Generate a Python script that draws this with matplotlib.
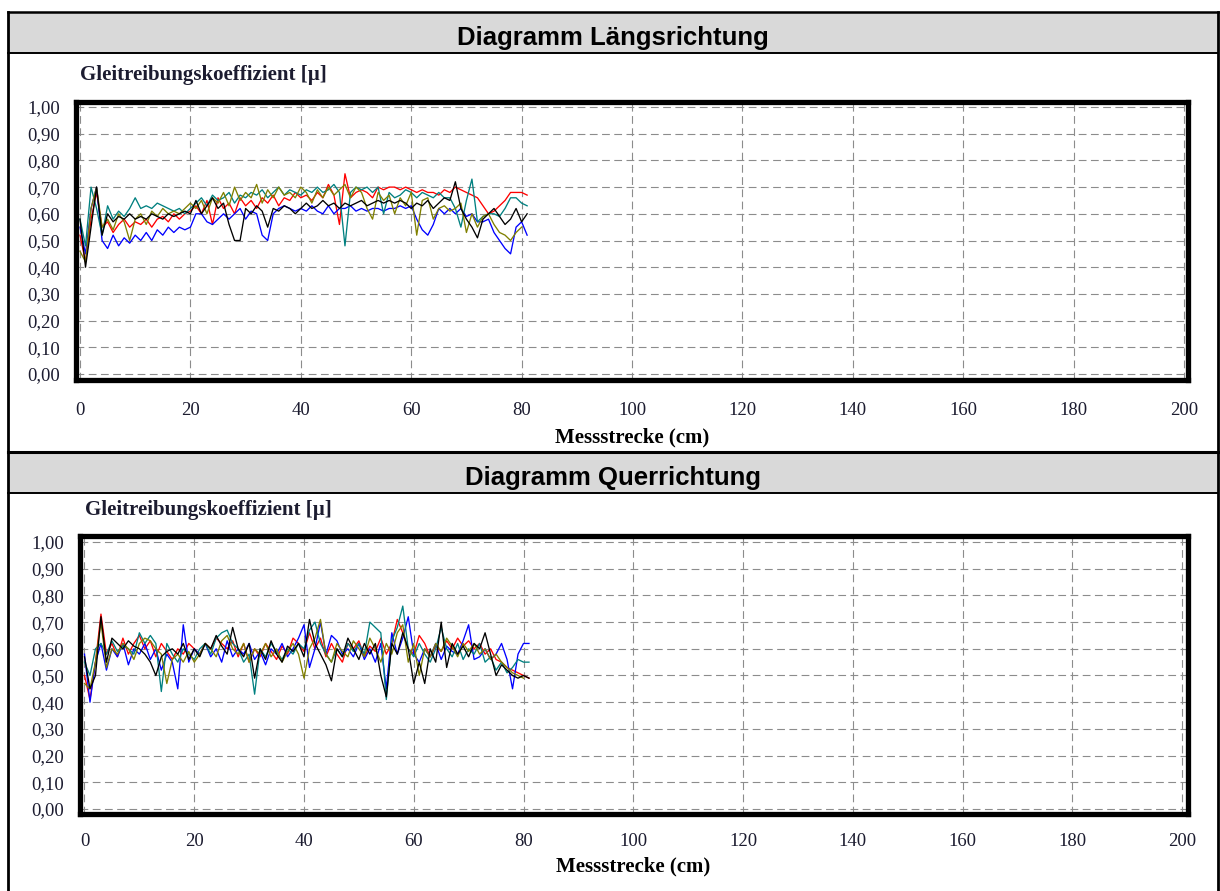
import matplotlib
matplotlib.use("Agg")
import matplotlib.pyplot as plt
from matplotlib.patches import Rectangle
from matplotlib.ticker import FuncFormatter

# Messpunkte in cm
messpunkte = list(range(82))

# --- Diagramm Laengsrichtung ---
l_rot = [0.52, 0.42, 0.58, 0.68, 0.55, 0.57, 0.53, 0.56, 0.58, 0.55,
         0.57, 0.56, 0.58, 0.55, 0.58, 0.59, 0.57, 0.60, 0.58, 0.60,
         0.61, 0.63, 0.60, 0.65, 0.56, 0.66, 0.62, 0.64, 0.60, 0.66,
         0.63, 0.65, 0.62, 0.66, 0.64, 0.67, 0.63, 0.66, 0.65, 0.68,
         0.66, 0.67, 0.65, 0.68, 0.66, 0.71, 0.67, 0.56, 0.75, 0.66,
         0.68, 0.69, 0.68, 0.66, 0.70, 0.69, 0.70, 0.70, 0.69, 0.70,
         0.69, 0.68, 0.69, 0.68, 0.68, 0.67, 0.69, 0.68, 0.70, 0.69,
         0.68, 0.67, 0.66, 0.63, 0.60, 0.61, 0.63, 0.65, 0.68, 0.68,
         0.68, 0.67]
l_blau = [0.55, 0.45, 0.62, 0.70, 0.50, 0.47, 0.52, 0.48, 0.51, 0.49,
          0.52, 0.50, 0.53, 0.50, 0.54, 0.52, 0.55, 0.53, 0.55, 0.54,
          0.55, 0.60, 0.60, 0.57, 0.56, 0.58, 0.60, 0.58, 0.60, 0.62,
          0.58, 0.61, 0.60, 0.52, 0.50, 0.60, 0.62, 0.63, 0.62, 0.61,
          0.62, 0.61, 0.63, 0.61, 0.60, 0.63, 0.60, 0.62, 0.62, 0.63,
          0.61, 0.62, 0.61, 0.62, 0.62, 0.61, 0.62, 0.62, 0.63, 0.62,
          0.63, 0.58, 0.54, 0.52, 0.56, 0.62, 0.60, 0.62, 0.60, 0.62,
          0.59, 0.60, 0.57, 0.57, 0.58, 0.53, 0.50, 0.47, 0.45, 0.55,
          0.57, 0.52]
l_petrol = [0.58, 0.48, 0.70, 0.62, 0.52, 0.63, 0.58, 0.61, 0.59, 0.62,
            0.66, 0.62, 0.63, 0.62, 0.64, 0.63, 0.62, 0.61, 0.62, 0.60,
            0.62, 0.64, 0.66, 0.63, 0.67, 0.65, 0.66, 0.68, 0.64, 0.67,
            0.66, 0.68, 0.67, 0.69, 0.66, 0.68, 0.70, 0.67, 0.69, 0.68,
            0.67, 0.69, 0.68, 0.70, 0.68, 0.69, 0.71, 0.68, 0.48, 0.68,
            0.70, 0.69, 0.70, 0.68, 0.70, 0.60, 0.68, 0.66, 0.67, 0.69,
            0.68, 0.66, 0.68, 0.67, 0.66, 0.68, 0.66, 0.66, 0.62, 0.55,
            0.65, 0.73, 0.57, 0.59, 0.60, 0.60, 0.59, 0.62, 0.66, 0.66,
            0.64, 0.63]
l_oliv = [0.46, 0.42, 0.62, 0.70, 0.55, 0.58, 0.54, 0.60, 0.57, 0.50,
          0.58, 0.60, 0.56, 0.61, 0.59, 0.62, 0.60, 0.61, 0.60, 0.62,
          0.64, 0.62, 0.65, 0.60, 0.66, 0.64, 0.68, 0.63, 0.70, 0.65,
          0.68, 0.66, 0.71, 0.64, 0.69, 0.66, 0.70, 0.67, 0.68, 0.66,
          0.70, 0.68, 0.64, 0.69, 0.66, 0.70, 0.67, 0.69, 0.71, 0.66,
          0.70, 0.68, 0.62, 0.58, 0.68, 0.65, 0.67, 0.60, 0.66, 0.63,
          0.68, 0.52, 0.65, 0.66, 0.58, 0.62, 0.63, 0.61, 0.62, 0.64,
          0.53, 0.60, 0.55, 0.59, 0.60, 0.56, 0.53, 0.52, 0.50, 0.53,
          0.55]
l_schwarz = [0.58, 0.40, 0.55, 0.70, 0.52, 0.60, 0.57, 0.59, 0.58, 0.60,
             0.58, 0.59, 0.58, 0.60, 0.59, 0.58, 0.60, 0.59, 0.60, 0.61,
             0.60, 0.65, 0.60, 0.63, 0.66, 0.62, 0.64, 0.56, 0.50, 0.50,
             0.62, 0.60, 0.63, 0.61, 0.55, 0.62, 0.61, 0.63, 0.62, 0.60,
             0.62, 0.64, 0.62, 0.63, 0.65, 0.63, 0.64, 0.62, 0.64, 0.63,
             0.64, 0.65, 0.63, 0.64, 0.65, 0.64, 0.65, 0.64, 0.65, 0.64,
             0.62, 0.64, 0.63, 0.65, 0.62, 0.64, 0.66, 0.65, 0.72, 0.62,
             0.58, 0.55, 0.51, 0.58, 0.60, 0.62, 0.59, 0.56, 0.58, 0.62,
             0.57, 0.60]

# --- Diagramm Querrichtung ---
q_rot = [0.50, 0.41, 0.55, 0.73, 0.58, 0.62, 0.57, 0.64, 0.58, 0.62,
         0.65, 0.60, 0.63, 0.57, 0.62, 0.59, 0.56, 0.60, 0.58, 0.62,
         0.60, 0.58, 0.62, 0.60, 0.64, 0.62, 0.60, 0.63, 0.57, 0.62,
         0.55, 0.60, 0.57, 0.62, 0.59, 0.56, 0.61, 0.58, 0.64, 0.62,
         0.59, 0.66, 0.60, 0.64, 0.57, 0.62, 0.58, 0.55, 0.62, 0.60,
         0.63, 0.57, 0.61, 0.59, 0.64, 0.58, 0.62, 0.71, 0.66, 0.60,
         0.58, 0.65, 0.62, 0.57, 0.61, 0.59, 0.63, 0.60, 0.64, 0.61,
         0.63, 0.60, 0.62, 0.58, 0.60, 0.56, 0.55, 0.53, 0.52, 0.51,
         0.50, 0.49]
q_blau = [0.58, 0.40, 0.55, 0.62, 0.52, 0.60, 0.57, 0.62, 0.54, 0.60,
          0.58, 0.62, 0.56, 0.60, 0.52, 0.58, 0.55, 0.45, 0.69, 0.55,
          0.60, 0.58, 0.62, 0.57, 0.60, 0.55, 0.63, 0.57, 0.60, 0.58,
          0.62, 0.56, 0.59, 0.54, 0.60, 0.58, 0.62, 0.57, 0.60, 0.64,
          0.69, 0.53, 0.60, 0.70, 0.58, 0.65, 0.63, 0.58, 0.60, 0.57,
          0.62, 0.56, 0.60, 0.55, 0.62, 0.45, 0.66, 0.58, 0.64, 0.72,
          0.58, 0.55, 0.60, 0.57, 0.62, 0.56, 0.61, 0.59, 0.58, 0.63,
          0.69, 0.56, 0.57, 0.60, 0.56, 0.58, 0.62, 0.56, 0.45, 0.58,
          0.62, 0.62]
q_petrol = [0.55, 0.50, 0.60, 0.62, 0.58, 0.63, 0.59, 0.61, 0.60, 0.58,
            0.66, 0.62, 0.65, 0.62, 0.44, 0.62, 0.58, 0.55, 0.60, 0.58,
            0.56, 0.60, 0.62, 0.58, 0.64, 0.66, 0.67, 0.62, 0.60, 0.55,
            0.58, 0.43, 0.60, 0.57, 0.62, 0.59, 0.56, 0.60, 0.58, 0.62,
            0.60, 0.67, 0.70, 0.62, 0.58, 0.55, 0.60, 0.57, 0.62, 0.59,
            0.62, 0.58, 0.70, 0.68, 0.66, 0.41, 0.63, 0.68, 0.76, 0.60,
            0.57, 0.62, 0.58, 0.55, 0.60, 0.68, 0.60, 0.57, 0.62, 0.56,
            0.60, 0.58, 0.62, 0.55, 0.57, 0.52, 0.55, 0.51, 0.53, 0.56,
            0.55, 0.55]
q_oliv = [0.47, 0.45, 0.55, 0.70, 0.53, 0.60, 0.58, 0.62, 0.60, 0.56,
          0.62, 0.64, 0.63, 0.60, 0.58, 0.47, 0.56, 0.58, 0.55, 0.59,
          0.55, 0.58, 0.62, 0.60, 0.57, 0.63, 0.65, 0.60, 0.58, 0.62,
          0.55, 0.60, 0.58, 0.62, 0.57, 0.60, 0.55, 0.59, 0.62, 0.58,
          0.49, 0.60, 0.64, 0.71, 0.58, 0.55, 0.62, 0.59, 0.57, 0.63,
          0.60, 0.57, 0.64, 0.60, 0.55, 0.62, 0.58, 0.66, 0.69, 0.55,
          0.62, 0.50, 0.60, 0.57, 0.62, 0.59, 0.64, 0.61, 0.57, 0.62,
          0.59, 0.62, 0.58, 0.60, 0.56, 0.58, 0.55, 0.53, 0.51, 0.50,
          0.49]
q_schwarz = [0.57, 0.45, 0.50, 0.72, 0.55, 0.64, 0.62, 0.60, 0.63, 0.61,
             0.60, 0.58, 0.55, 0.50, 0.57, 0.59, 0.60, 0.58, 0.62, 0.56,
             0.60, 0.57, 0.62, 0.60, 0.65, 0.61, 0.58, 0.68, 0.60, 0.57,
             0.62, 0.49, 0.60, 0.56, 0.63, 0.58, 0.55, 0.61, 0.59, 0.62,
             0.57, 0.71, 0.62, 0.58, 0.54, 0.48, 0.60, 0.57, 0.64, 0.60,
             0.56, 0.62, 0.58, 0.62, 0.50, 0.42, 0.62, 0.58, 0.66, 0.60,
             0.47, 0.55, 0.47, 0.60, 0.55, 0.70, 0.53, 0.62, 0.58, 0.61,
             0.57, 0.62, 0.60, 0.66, 0.58, 0.50, 0.54, 0.52, 0.50, 0.49,
             0.50, 0.49]

farben = ['#ff0000', '#0000ff', '#008080', '#808000', '#000000']
x_ticks = [0, 20, 40, 60, 80, 100, 120, 140, 160, 180, 200]
y_ticks = [0.0, 0.1, 0.2, 0.3, 0.4, 0.5, 0.6, 0.7, 0.8, 0.9, 1.0]

W, H = 1220, 891
fig = plt.figure(figsize=(W / 100, H / 100), dpi=100)
fig.patch.set_facecolor('white')

# background layer in pixel coordinates (headers, frame)
bg = fig.add_axes([0, 0, 1, 1], zorder=0)
bg.set_xlim(0, W)
bg.set_ylim(H, 0)
bg.axis('off')

for top, bot, titel in [(12, 53, 'Diagramm Längsrichtung'),
                        (452, 493, 'Diagramm Querrichtung')]:
    bg.add_patch(Rectangle((8, top), 1210, bot - top, facecolor='#d9d9d9',
                           edgecolor='none'))
    bg.plot([8, 1218], [top, top], color='black', lw=2.2 if top > 100 else 1.8)
    bg.plot([8, 1218], [bot, bot], color='black', lw=1.4)
    bg.text(613, top + 33, titel, ha='center', va='baseline',
            family='Liberation Sans', weight='bold', fontsize=18.5)
bg.plot([8, 8], [12, H], color='black', lw=2)
bg.plot([1218, 1218], [12, H], color='black', lw=2)


def px_ax(left, right, top, bottom):
    return [left / W, 1 - bottom / H, (right - left) / W, (bottom - top) / H]


def panel(rect, xlim, ylim, serien, ylabel_xy, xpad, lpad):
    ax = fig.add_axes(rect, zorder=2)
    ax.set_xlim(*xlim)
    ax.set_ylim(*ylim)
    for s, c in zip(serien, farben):
        ax.plot(messpunkte[:len(s)], s, color=c, lw=0.95)
    ax.set_xticks(x_ticks)
    ax.set_yticks(y_ticks)
    ax.yaxis.set_major_formatter(FuncFormatter(lambda v, i: ('%.2f' % v).replace('.', ',')))
    ax.grid(True, color='#8c8c8c', lw=0.8, ls=(0, (7, 4)))
    ax.set_axisbelow(True)
    for sp in ax.spines.values():
        sp.set_linewidth(3.8)
        sp.set_color('black')
    ax.tick_params(length=0, labelsize=13.5, labelcolor='#1c1c30')
    ax.tick_params(axis='y', pad=11)
    ax.tick_params(axis='x', pad=xpad)
    for lab in ax.get_xticklabels() + ax.get_yticklabels():
        lab.set_family('Liberation Serif')
    ax.set_xlabel('Messstrecke (cm)', family='Liberation Serif', weight='bold',
                  fontsize=15, labelpad=lpad)
    bg.text(ylabel_xy[0], ylabel_xy[1], 'Gleitreibungskoeffizient [µ]',
            ha='left', va='center', family='Liberation Serif', weight='bold',
            fontsize=15, color='#1c1c30')
    return ax


panel(px_ax(75.5, 1188, 101.5, 379.5), (-0.815, 200.72), (-0.0206, 1.0206),
      [l_rot, l_blau, l_petrol, l_oliv, l_schwarz], (80, 75), 16, 6)
panel(px_ax(79.5, 1187.5, 535.5, 814), (-0.91, 201.0), (-0.0187, 1.0243),
      [q_rot, q_blau, q_petrol, q_oliv, q_schwarz], (85, 510), 13.5, 5)

fig.savefig('out.png', dpi=100)
